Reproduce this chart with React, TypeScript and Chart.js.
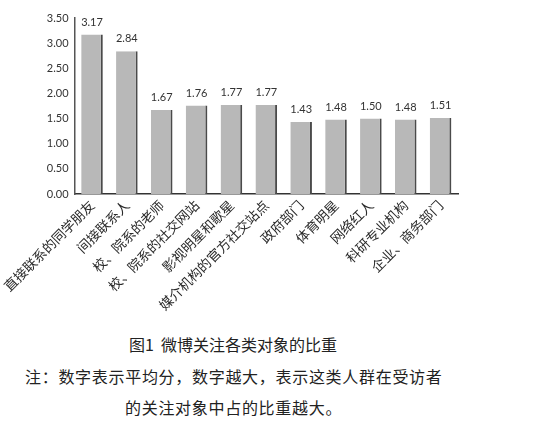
import React, { useEffect, useRef } from 'react';
import { Chart, registerables, ChartConfiguration, Plugin } from 'chart.js';

Chart.register(...registerables);

// categories (x axis) and mean scores
const categories: string[] = [
  '直接联系的同学朋友',
  '间接联系人',
  '校、院系的老师',
  '校、院系的社交网站',
  '影视明星和歌星',
  '媒介机构的官方社交站点',
  '政府部门',
  '体育明星',
  '网络红人',
  '科研专业机构',
  '企业、商务部门',
];
const scores: number[] = [3.17, 2.84, 1.67, 1.76, 1.77, 1.77, 1.43, 1.48, 1.5, 1.48, 1.51];

const yMax = 3.5;
const yStep = 0.5;

const caption = '图1\u00a0\u00a0微博关注各类对象的比重';
const noteLine1 = '注：数字表示平均分，数字越大，表示这类人群在受访者';
const noteLine2 = '的关注对象中占的比重越大。';

const CANVAS_H = 320;

// draws the value above every bar
const valueLabels: Plugin<'bar'> = {
  id: 'valueLabels',
  afterDatasetsDraw(chart) {
    const ctx = chart.ctx;
    const meta = chart.getDatasetMeta(0);
    ctx.save();
    ctx.font = '11px Lato, "Open Sans", sans-serif';
    ctx.fillStyle = '#333';
    ctx.textAlign = 'center';
    ctx.textBaseline = 'bottom';
    meta.data.forEach((bar, i) => {
      const v = chart.data.datasets[0].data[i] as number;
      ctx.fillText(v.toFixed(2), bar.x, bar.y - 7);
    });
    ctx.restore();
  },
};

function BarChart() {
  const chartRef = useRef<HTMLCanvasElement | null>(null);

  useEffect(() => {
    if (!chartRef.current) return;
    const ctx = chartRef.current.getContext('2d');
    if (!ctx) return;

    const config: ChartConfiguration<'bar', number[], string> = {
      type: 'bar',
      data: {
        labels: categories,
        datasets: [
          {
            data: scores,
            backgroundColor: '#b8b8b8',
            borderColor: '#4a4a4a',
            borderWidth: { top: 0, left: 0, bottom: 0, right: 2 },
            borderSkipped: false,
            categoryPercentage: 1,
            barPercentage: 0.62,
          },
        ],
      },
      options: {
        animation: false,
        responsive: true,
        maintainAspectRatio: false,
        layout: { padding: { top: 18, right: 78, left: 0, bottom: 0 } },
        plugins: {
          legend: { display: false },
          tooltip: { enabled: false },
        },
        scales: {
          x: {
            grid: { display: false, drawTicks: false },
            border: { display: true, color: '#333', width: 1.5 },
            ticks: {
              minRotation: 45,
              maxRotation: 45,
              autoSkip: false,
              padding: 3,
              color: '#2a2a2a',
              font: { family: '"Noto Sans CJK SC", sans-serif', size: 13.5 },
            },
            afterFit: (scale) => {
              scale.height = CANVAS_H - 194;
            },
          },
          y: {
            min: 0,
            max: yMax,
            grid: { display: false, drawTicks: false },
            border: { display: true, color: '#555', width: 1.5 },
            ticks: {
              stepSize: yStep,
              padding: 6,
              color: '#333',
              font: { family: 'Lato, "Open Sans", sans-serif', size: 11 },
              callback: (v) => Number(v).toFixed(2),
            },
            afterFit: (scale) => {
              scale.width = 68;
            },
          },
        },
      },
      plugins: [valueLabels],
    };

    const chartInstance = new Chart(ctx, config);
    return () => {
      chartInstance.destroy();
    };
  }, []);

  return (
    <div style={{ position: 'absolute', left: 0, top: 0, width: 536, height: CANVAS_H }}>
      <canvas ref={chartRef} />
    </div>
  );
}

export default function App() {
  const textStyle: React.CSSProperties = {
    position: 'absolute',
    left: 0,
    width: 536,
    fontFamily: '"Noto Sans CJK SC", sans-serif',
    fontSize: 16,
    color: '#222',
    whiteSpace: 'nowrap',
    lineHeight: '20px',
  };
  return (
    <div style={{ position: 'absolute', left: 0, top: 0, width: 536, height: 427, background: '#fff' }}>
      <BarChart />
      <div style={{ ...textStyle, top: 334, textAlign: 'center', paddingRight: 70, boxSizing: 'border-box' }}>
        {caption}
      </div>
      <div style={{ ...textStyle, top: 366, left: 25, width: 'auto', letterSpacing: 0.7 }}>{noteLine1}</div>
      <div style={{ ...textStyle, top: 397, left: 125, width: 'auto', letterSpacing: 0.7 }}>{noteLine2}</div>
    </div>
  );
}
